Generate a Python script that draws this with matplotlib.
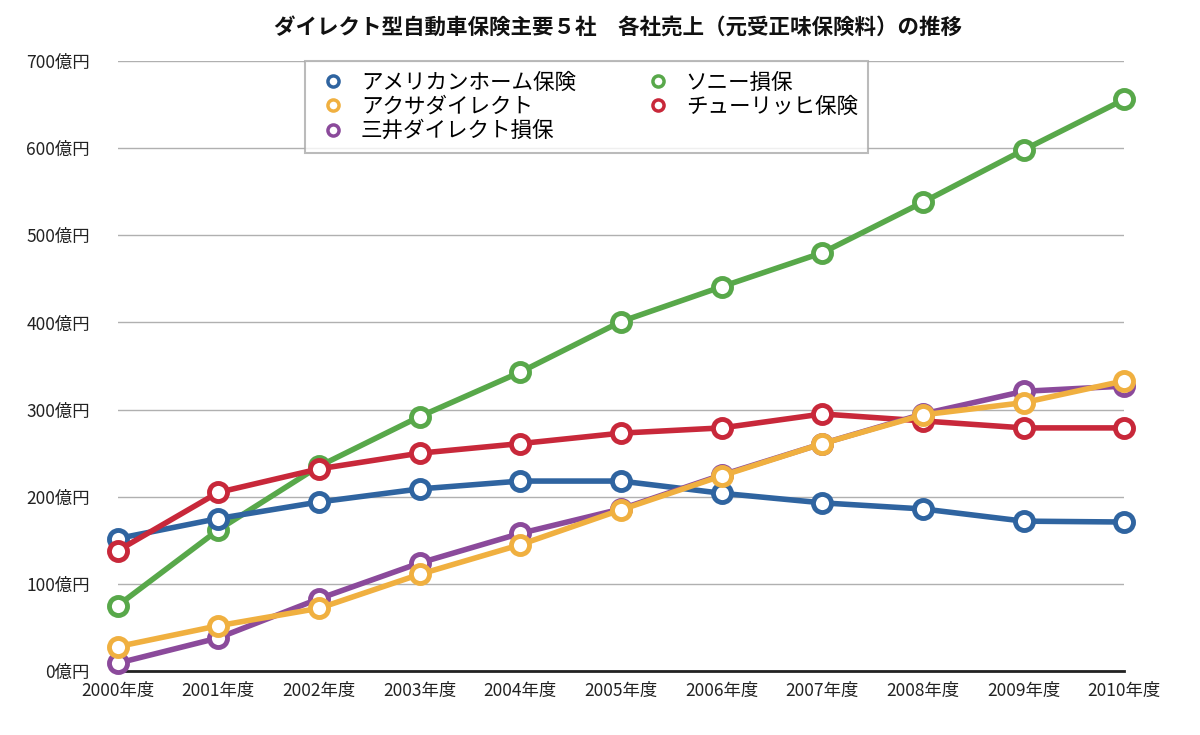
import matplotlib
matplotlib.use("Agg")
import matplotlib.pyplot as plt
from matplotlib.lines import Line2D

plt.rcParams['font.family'] = ['Noto Sans CJK JP', 'DejaVu Sans']

years = list(range(2000, 2011))
year_labels = [f"{y}年度" for y in years]

american_home = [152, 175, 194, 209, 218, 218, 204, 193, 186, 172, 171]
sony = [75, 162, 235, 292, 343, 401, 441, 480, 538, 598, 656]
zurich = [138, 205, 232, 250, 261, 273, 279, 295, 287, 279, 279]
axa = [28, 52, 72, 111, 145, 185, 224, 261, 294, 308, 333]
mitsui = [9, 38, 83, 124, 158, 186, 225, 261, 295, 321, 327]

series = [
    ("アメリカンホーム保険", american_home, "#2f64a0"),
    ("アクサダイレクト", axa, "#f0b040"),
    ("三井ダイレクト損保", mitsui, "#8b4a9b"),
    ("ソニー損保", sony, "#58a84a"),
    ("チューリッヒ保険", zurich, "#c8283a"),
]
# drawing order (last on top)
draw_order = ["ソニー損保", "アメリカンホーム保険", "チューリッヒ保険", "三井ダイレクト損保", "アクサダイレクト"]

fig = plt.figure(figsize=(12, 7.35), dpi=100)
ax = fig.add_axes([0.098, 0.087, 0.839, 0.83])
ax.set_xlim(2000, 2010)
ax.set_ylim(0, 700)

lookup = {name: (vals, col) for name, vals, col in series}
for z, name in enumerate(draw_order):
    vals, col = lookup[name]
    ax.plot(years, vals, color=col, lw=4, marker="o", ms=13, mfc="white",
            mec=col, mew=3.5, clip_on=False, zorder=3 + z)

ax.set_yticks(range(0, 701, 100))
ax.set_yticklabels([f"{v}億円" for v in range(0, 701, 100)])
ax.set_xticks(years)
ax.set_xticklabels(year_labels)
ax.tick_params(axis="both", length=0, labelsize=12.5, colors="#222222")
ax.tick_params(axis="y", pad=20)
ax.tick_params(axis="x", pad=8)
ax.grid(axis="y", color="#b0b0b0", lw=1)
ax.set_axisbelow(True)
for s in ["left", "right", "top"]:
    ax.spines[s].set_visible(False)
ax.spines["bottom"].set_color("#222222")
ax.spines["bottom"].set_linewidth(2)

handles = [Line2D([0], [0], ls="none", marker="o", ms=8, mfc="white", mec=col, mew=2.5,
                  label=name) for name, _, col in series]
leg = ax.legend(handles=handles, loc="upper left", bbox_to_anchor=(0.186, 1.0), ncol=2,
                fontsize=15.5, frameon=True, fancybox=False, edgecolor="#aaaaaa",
                handletextpad=0.5, columnspacing=3.0, labelspacing=0.1, borderpad=0.5,
                handlelength=1.6, borderaxespad=0)
leg.get_frame().set_linewidth(1.5)
leg.set_zorder(20)

fig.text(0.515, 0.962, "ダイレクト型自動車保険主要５社　各社売上（元受正味保険料）の推移",
         ha="center", va="center", fontsize=15.5, fontweight="bold", color="#111111")

fig.savefig("out.png", dpi=100, facecolor="white")
